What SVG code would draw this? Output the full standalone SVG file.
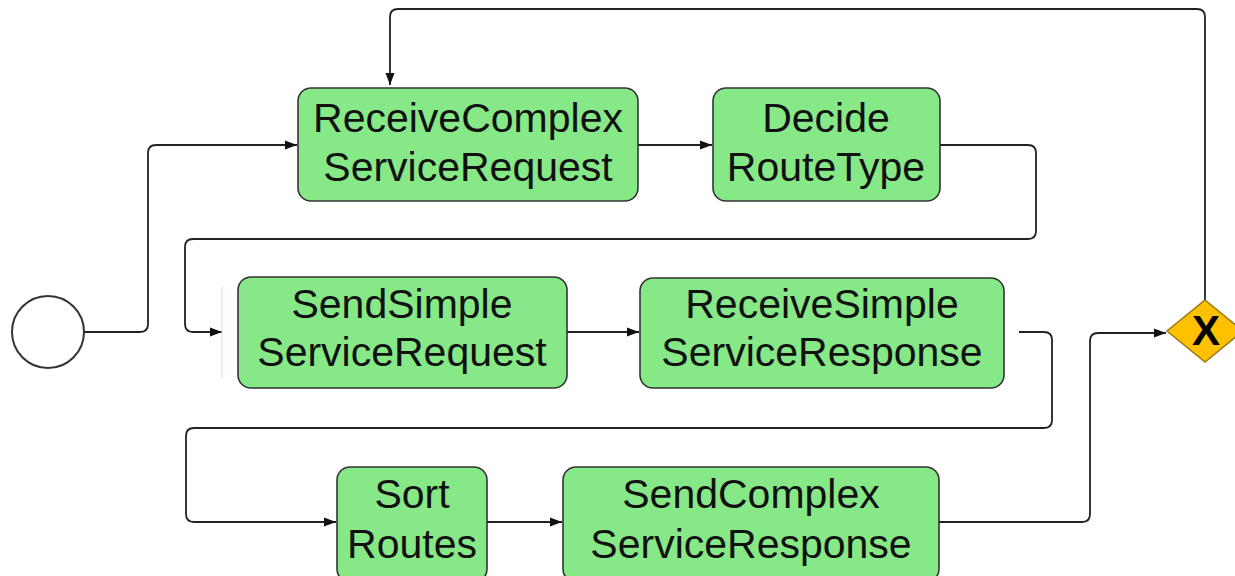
<svg xmlns="http://www.w3.org/2000/svg" width="1235" height="576" viewBox="0 0 1235 576">
<style>
.task{fill:#86E886;stroke:#333;stroke-width:1.6}
.lbl{font-family:"Liberation Sans",Arial,sans-serif;font-size:41px;fill:#111;text-anchor:middle}
.conn{fill:none;stroke:#222;stroke-width:1.8}
</style>
<defs>
<marker id="arr" markerUnits="userSpaceOnUse" markerWidth="12" markerHeight="12" viewBox="0 0 12 12" refX="12" refY="6" orient="auto">
<path d="M0,1.5 L12,6 L0,10.5 Z" fill="#111"/>
</marker>
</defs>
<rect width="1235" height="576" fill="#fff"/>
<g id="connectors">
<path class="conn" marker-end="url(#arr)" d="M84,332 H140 Q148,332 148,324 V153 Q148,145 156,145 H297"/>
<path class="conn" marker-end="url(#arr)" d="M638,145 H712"/>
<path class="conn" marker-end="url(#arr)" d="M940,145 H1028 Q1036,145 1036,153 V231 Q1036,239 1028,239 H193 Q185,239 185,247 V324 Q185,332 193,332 H222"/>
<path class="conn" marker-end="url(#arr)" d="M567,332 H639"/>
<path class="conn" marker-end="url(#arr)" d="M1019,332 H1044 Q1052,332 1052,340 V420 Q1052,428 1044,428 H194 Q186,428 186,436 V514 Q186,522 194,522 H336"/>
<path class="conn" marker-end="url(#arr)" d="M487,522 H562"/>
<path class="conn" marker-end="url(#arr)" d="M939,522 H1082 Q1090,522 1090,514 V341 Q1090,333 1098,333 H1166"/>
<path class="conn" marker-end="url(#arr)" d="M1205,300 V17 Q1205,9 1197,9 H398 Q390,9 390,17 V85"/>
<line x1="222" y1="287" x2="222" y2="378" stroke="#d8d8d8" stroke-width="1"/>
</g>
<g id="start">
<circle cx="48" cy="332" r="36" fill="#fff" stroke="#333" stroke-width="2"/>
</g>
<g id="receiveComplex">
<rect class="task" x="298" y="88" width="340" height="113" rx="13"/>
<text class="lbl" x="468" y="132">ReceiveComplex</text>
<text class="lbl" x="468" y="181">ServiceRequest</text>
</g>
<g id="decideRouteType">
<rect class="task" x="713" y="88" width="227" height="113" rx="13"/>
<text class="lbl" x="826" y="132">Decide</text>
<text class="lbl" x="826" y="181">RouteType</text>
</g>
<g id="sendSimple">
<rect class="task" x="238" y="277" width="329" height="111" rx="13"/>
<text class="lbl" x="402" y="318">SendSimple</text>
<text class="lbl" x="402" y="366">ServiceRequest</text>
</g>
<g id="receiveSimple">
<rect class="task" x="640" y="278" width="364" height="110" rx="13"/>
<text class="lbl" x="822" y="318">ReceiveSimple</text>
<text class="lbl" x="822" y="366">ServiceResponse</text>
</g>
<g id="sortRoutes">
<rect class="task" x="337" y="467" width="150" height="115" rx="13"/>
<text class="lbl" x="412" y="508">Sort</text>
<text class="lbl" x="412" y="558">Routes</text>
</g>
<g id="sendComplex">
<rect class="task" x="563" y="467" width="376" height="115" rx="13"/>
<text class="lbl" x="751" y="508">SendComplex</text>
<text class="lbl" x="751" y="558">ServiceResponse</text>
</g>
<g id="gateway">
<path d="M1205,300 L1243,331 L1205,362 L1167,331 Z" fill="#FFC000" stroke="#9A7A10" stroke-width="1.5"/>
<text x="1206" y="345" font-family="Liberation Sans,Arial,sans-serif" font-weight="bold" font-size="42" fill="#000" text-anchor="middle">X</text>
</g>
</svg>
